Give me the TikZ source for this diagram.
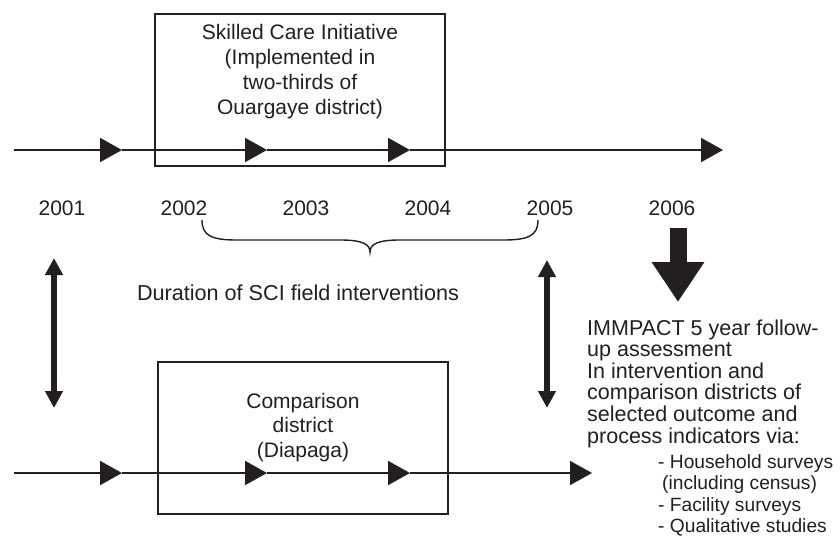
\documentclass[tikz,border=0pt]{standalone}
\usepackage{fontspec}
\setmainfont{Liberation Sans}
\usetikzlibrary{arrows.meta}
\definecolor{inkcol}{HTML}{231F20}
\begin{document}
\begin{tikzpicture}[x=1pt,y=-1pt,
  every node/.style={inner sep=0pt, text=inkcol, font=\fontsize{21}{25}\selectfont},
  box/.style={draw=inkcol, line width=2.8pt, minimum width=290pt, minimum height=152pt},
  tl/.style={draw=inkcol, line width=1.8pt, -{Triangle[length=22pt,width=24pt]}},
  dbl/.style={draw=inkcol, line width=6pt, {Triangle[length=17pt,width=17pt]}-{Triangle[length=17pt,width=17pt]}},
  bigarrow/.style={draw=inkcol, line width=17pt, -{Triangle[length=40pt,width=50pt]}},
  year/.style={anchor=base},
  bracepath/.style={draw=inkcol, line width=1.4pt}
]
\useasboundingbox (0,0) rectangle (840,548);

% boxes
\node[box] (sci) at (300,90) {};
\node[box] (cmp) at (303,438) {};

\node[anchor=base] (scitext) at (300,40) {\begin{tabular}[t]{@{}c@{}}Skilled Care Initiative\\(Implemented in\\two-thirds of\\Ouargaye district)\end{tabular}};
\node[anchor=base] (cmptext) at (303,408) {\fontsize{21}{24.5}\selectfont\begin{tabular}[t]{@{}c@{}}Comparison\\district\\(Diapaga)\end{tabular}};

% top timeline
\coordinate (t0) at (14,150);
\coordinate (t1) at (122,150);
\coordinate (t2) at (267,150);
\coordinate (t3) at (410,150);
\coordinate (t4) at (723,150);
\draw[tl] (t0) -- (t1);
\draw[tl] (t1) -- (t2);
\draw[tl] (t2) -- (t3);
\draw[tl] (t3) -- (t4);

% bottom timeline
\coordinate (b0) at (14,473);
\coordinate (b1) at (122,473);
\coordinate (b2) at (267,473);
\coordinate (b3) at (410,473);
\coordinate (b4) at (592,473);
\draw[tl] (b0) -- (b1);
\draw[tl] (b1) -- (b2);
\draw[tl] (b2) -- (b3);
\draw[tl] (b3) -- (b4);

% years
\node[year] (y2001) at (62,215) {2001};
\node[year] (y2002) at (184,215) {2002};
\node[year] (y2003) at (306,215) {2003};
\node[year] (y2004) at (428,215) {2004};
\node[year] (y2005) at (550,215) {2005};
\node[year] (y2006) at (672,215) {2006};

% brace
\draw[bracepath] (202,220) .. controls (202,236) and (212,240) .. (237,240)
  -- (340,240) .. controls (362,240) and (370,244) .. (370,252)
  .. controls (370,244) and (378,240) .. (400,240)
  -- (503,240) .. controls (528,240) and (538,236) .. (538,220);

\node[anchor=base, font=\fontsize{21.6}{25}\selectfont] (dur) at (298,300) {Duration of SCI field interventions};

% double arrows
\coordinate (la1) at (54,258);
\coordinate (la2) at (54,408);
\draw[dbl] (la1) -- (la2);
\coordinate (ra1) at (547,260);
\coordinate (ra2) at (547,408);
\draw[dbl] (ra1) -- (ra2);

% big arrow
\coordinate (bt) at (678,228);
\coordinate (bb) at (678,302);
\draw[bigarrow] (bt) -- (bb);

% assessment text
\node[anchor=base west] (assess) at (587,335) {\vtop{\fontsize{21.5}{21.6}\selectfont\lineskiplimit=-100pt
  \hbox{IMMPACT 5 year follow-}
  \hbox{up assessment}
  \hbox{In intervention and}
  \hbox{comparison districts of}
  \hbox{selected outcome and}
  \hbox{process indicators via:}
  \vskip 4.4pt
  \fontsize{19.2}{21.2}\selectfont
  \hbox{\hspace*{71pt}- Household surveys}
  \hbox{\hspace*{75pt}(including census)}
  \hbox{\hspace*{71pt}- Facility surveys}
  \hbox{\hspace*{71pt}- Qualitative studies}}};
\end{tikzpicture}
\end{document}
